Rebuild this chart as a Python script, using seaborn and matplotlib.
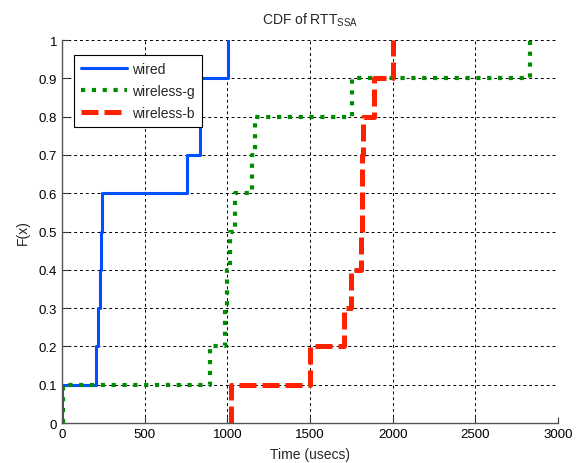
import numpy as np
import pandas as pd
import matplotlib
matplotlib.use('Agg')
import matplotlib.pyplot as plt
import seaborn as sns

series_names = ['wired', 'wireless-g', 'wireless-b']
wired = [2, 206, 215, 232, 238, 240, 758, 835, 838, 1002]
wireless_g = [8, 895, 985, 1000, 1015, 1046, 1150, 1170, 1752, 2830]
wireless_b = [1020, 1500, 1705, 1750, 1810, 1815, 1815, 1820, 1886, 2000]
colors = ['#0050ff', '#008c00', '#ff2000']

xticks = [0, 500, 1000, 1500, 2000, 2500, 3000]
yticks = [0, 0.1, 0.2, 0.3, 0.4, 0.5, 0.6, 0.7, 0.8, 0.9, 1.0]
ytick_labels = ['0', '0.1', '0.2', '0.3', '0.4', '0.5', '0.6', '0.7', '0.8', '0.9', '1']


def ecdf_steps(samples):
    # stairs like matlab cdfplot: vertical rise at each sample
    s = np.sort(np.asarray(samples, dtype=float))
    n = len(s)
    xs, ys = [], []
    for i, v in enumerate(s):
        xs += [v, v]
        ys += [i / n, (i + 1) / n]
    return pd.DataFrame({'x': xs, 'y': ys})


sns.set_style('ticks')
plt.rcParams['font.family'] = ['Liberation Sans', 'DejaVu Sans']
plt.rcParams['mathtext.fontset'] = 'custom'
plt.rcParams['mathtext.rm'] = 'Liberation Sans'
plt.rcParams['mathtext.it'] = 'Liberation Sans'

fig = plt.figure(figsize=(5.77, 4.64), dpi=100)
ax = fig.add_axes([0.1075, 0.0862, 0.8595, 0.8254])

styles = [
    dict(linestyle='-', linewidth=2.2),
    dict(linestyle=(0, (1, 1.6)), linewidth=3.0, dash_capstyle='butt'),
    dict(linestyle=(0, (3.4, 1.2)), linewidth=3.6, dash_capstyle='butt'),
]
for name, data, col, st in zip(series_names, [wired, wireless_g, wireless_b], colors, styles):
    df = ecdf_steps(data)
    sns.lineplot(data=df, x='x', y='y', sort=False, estimator=None, color=col,
                 label=name, ax=ax, **st)

ax.set_xlim(0, 3000)
ax.set_ylim(0, 1)
ax.set_xticks(xticks)
ax.set_yticks(yticks)
ax.set_yticklabels(ytick_labels)
ax.tick_params(direction='in', length=4, labelsize=9.5, colors='#333333', labelcolor='black')
ax.grid(True, color='black', linestyle=(0, (3, 3)), linewidth=0.7)
for side in ['top', 'right']:
    ax.spines[side].set_visible(False)
for side in ['left', 'bottom']:
    ax.spines[side].set_color('#555555')
    ax.spines[side].set_linewidth(1.0)

ax.set_xlabel('Time (usecs)', fontsize=10, labelpad=5)
ax.set_ylabel('F(x)', fontsize=10, labelpad=6)
ax.set_title('CDF of RTT$_{\\mathrm{SSA}}$', fontsize=10, pad=12)

leg = ax.legend(loc='upper left', bbox_to_anchor=(0.01, 0.978), fontsize=10,
                fancybox=False, framealpha=1, edgecolor='black', handlelength=3.3,
                borderpad=0.5, labelspacing=0.55, handletextpad=0.4)
leg.get_frame().set_linewidth(0.8)

fig.savefig('out.png', dpi=100)
